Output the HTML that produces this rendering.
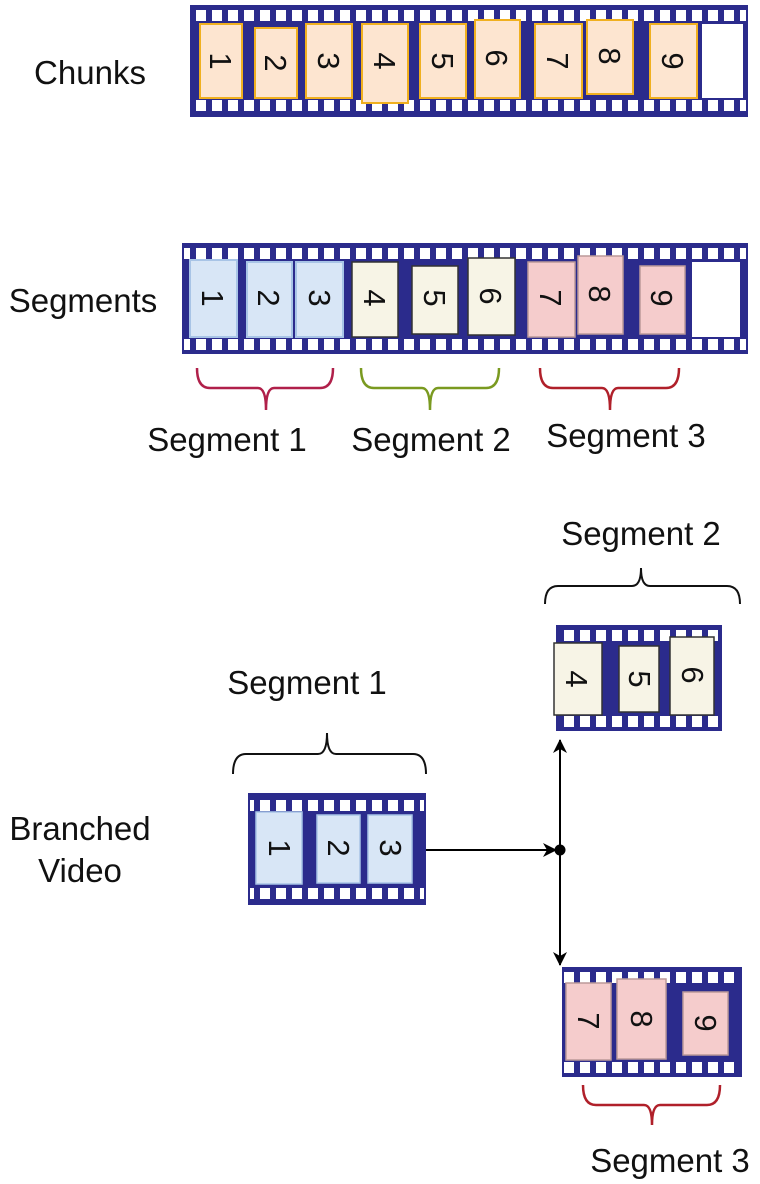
<!DOCTYPE html>
<html><head><meta charset="utf-8"><style>
html,body{margin:0;padding:0;background:#fff;}
svg{display:block}
text{font-family:"Liberation Sans",sans-serif;}
</style></head><body>
<svg width="760" height="1184" viewBox="0 0 760 1184" xmlns="http://www.w3.org/2000/svg">
<defs>
<pattern id="h" x="0" y="0" width="16" height="12" patternUnits="userSpaceOnUse">
<rect x="4" y="0" width="10" height="12" fill="#fff"/>
</pattern>
<marker id="ar" markerWidth="14" markerHeight="14" refX="13" refY="7" orient="auto" markerUnits="userSpaceOnUse"><path d="M0,0 L14,7 L0,14 L4,7z" fill="#000"/></marker>
</defs>
<g font-size="33" fill="#111">
<text x="90" y="84" text-anchor="middle">Chunks</text>
<text x="83" y="312" text-anchor="middle">Segments</text>
<text x="227" y="451" text-anchor="middle">Segment 1</text>
<text x="431" y="451" text-anchor="middle">Segment 2</text>
<text x="626" y="447" text-anchor="middle">Segment 3</text>
<text x="641" y="545" text-anchor="middle">Segment 2</text>
<text x="307" y="694" text-anchor="middle">Segment 1</text>
<text x="80" y="840" text-anchor="middle">Branched</text>
<text x="80" y="882" text-anchor="middle">Video</text>
<text x="670" y="1172" text-anchor="middle">Segment 3</text>
</g>

<!-- Strip 1 -->
<rect x="190" y="5" width="558" height="112" fill="#2b2b8c"/>
<rect x="192" y="10" width="554" height="11" fill="url(#h)"/>
<rect x="192" y="100" width="554" height="11" fill="url(#h)"/>
<g fill="#fde5d0" stroke="#f0b020" stroke-width="2">
<rect x="200" y="24" width="42" height="74"/><rect x="255" y="28" width="42" height="70"/>
<rect x="306" y="24" width="46" height="74"/><rect x="362" y="24" width="46" height="79"/>
<rect x="420" y="24" width="46" height="74"/><rect x="475" y="20" width="45" height="78"/>
<rect x="535" y="24" width="47" height="74"/><rect x="587" y="20" width="46" height="74"/>
<rect x="650" y="24" width="47" height="74"/>
</g>
<rect x="702" y="24" width="41" height="74" fill="#fff"/>
<g font-size="31" fill="#111" text-anchor="middle">
<text transform="translate(221,61) rotate(90)" y="11">1</text>
<text transform="translate(276,63) rotate(90)" y="11">2</text>
<text transform="translate(329,61) rotate(90)" y="11">3</text>
<text transform="translate(385,61) rotate(90)" y="11">4</text>
<text transform="translate(443,61) rotate(90)" y="11">5</text>
<text transform="translate(497,58) rotate(90)" y="11">6</text>
<text transform="translate(558,61) rotate(90)" y="11">7</text>
<text transform="translate(610,56) rotate(90)" y="11">8</text>
<text transform="translate(673,61) rotate(90)" y="11">9</text>
</g>

<!-- Strip 2 -->
<rect x="182" y="243" width="566" height="111" fill="#2b2b8c"/>
<rect x="184" y="248" width="562" height="11" fill="url(#h)"/>
<rect x="184" y="339" width="562" height="11" fill="url(#h)"/>
<g fill="#d8e6f6" stroke="#a8c4e6" stroke-width="2">
<rect x="190" y="260" width="47" height="77"/><rect x="247" y="262" width="45" height="75"/><rect x="296" y="262" width="47" height="75"/>
</g>
<g fill="#f7f4e6" stroke="#333" stroke-width="1.5">
<rect x="352" y="262" width="46" height="75"/><rect x="412" y="266" width="46" height="68"/><rect x="468" y="258" width="47" height="77"/>
</g>
<g fill="#f5cccc" stroke="#b99" stroke-width="1.5">
<rect x="528" y="262" width="47" height="75"/><rect x="578" y="256" width="45" height="78"/><rect x="640" y="266" width="45" height="68"/>
</g>
<rect x="692" y="262" width="48" height="75" fill="#fff"/>
<g font-size="31" fill="#111" text-anchor="middle">
<text transform="translate(213,298) rotate(90)" y="11">1</text>
<text transform="translate(269,298) rotate(90)" y="11">2</text>
<text transform="translate(320,298) rotate(90)" y="11">3</text>
<text transform="translate(375,298) rotate(90)" y="11">4</text>
<text transform="translate(435,298) rotate(90)" y="11">5</text>
<text transform="translate(491,296) rotate(90)" y="11">6</text>
<text transform="translate(551,298) rotate(90)" y="11">7</text>
<text transform="translate(600,294) rotate(90)" y="11">8</text>
<text transform="translate(662,298) rotate(90)" y="11">9</text>
</g>

<!-- Braces -->
<g fill="none" stroke-width="2.5">
<path d="M197,368 Q197,388 210,388 L258,388 Q266,388 266,410 Q266,388 274,388 L320,388 Q333,388 333,368" stroke="#b0204a"/>
<path d="M361,368 Q361,388 374,388 L422,388 Q430,388 430,410 Q430,388 438,388 L486,388 Q499,388 499,368" stroke="#7a9a20"/>
<path d="M540,368 Q540,388 553,388 L602,388 Q610,388 610,410 Q610,388 618,388 L666,388 Q679,388 679,368" stroke="#b0202a"/>
<path d="M583,1085 Q583,1105 596,1105 L644,1105 Q652,1105 652,1125 Q652,1105 660,1105 L707,1105 Q720,1105 720,1085" stroke="#b0202a"/>
</g>
<g fill="none" stroke="#111" stroke-width="2">
<path d="M545,604 Q545,586 558,586 L632,586 Q641,586 641,568 Q641,586 650,586 L727,586 Q740,586 740,604"/>
<path d="M233,774 Q233,754 246,754 L318,754 Q327,754 327,733 Q327,754 336,754 L413,754 Q426,754 426,774"/>
</g>

<!-- Branch strip Seg2 -->
<rect x="556" y="625" width="166" height="106" fill="#2b2b8c"/>
<rect x="558" y="630" width="162" height="11" fill="url(#h)"/>
<rect x="558" y="716" width="162" height="11" fill="url(#h)"/>
<g fill="#f7f4e6" stroke="#333" stroke-width="1.5">
<rect x="554" y="643" width="48" height="72"/><rect x="619" y="646" width="40" height="66"/><rect x="670" y="637" width="44" height="78"/>
</g>
<g font-size="31" fill="#111" text-anchor="middle">
<text transform="translate(577,679) rotate(90)" y="11">4</text>
<text transform="translate(640,679) rotate(90)" y="11">5</text>
<text transform="translate(693,675) rotate(90)" y="11">6</text>
</g>

<!-- Branch strip Seg1 -->
<rect x="248" y="793" width="178" height="112" fill="#2b2b8c"/>
<rect x="250" y="800" width="174" height="11" fill="url(#h)"/>
<rect x="250" y="888" width="174" height="11" fill="url(#h)"/>
<g fill="#d8e6f6" stroke="#a8c4e6" stroke-width="1.5">
<rect x="256" y="812" width="46" height="72"/><rect x="317" y="815" width="43" height="68"/><rect x="368" y="815" width="44" height="68"/>
</g>
<g font-size="31" fill="#111" text-anchor="middle">
<text transform="translate(280,848) rotate(90)" y="11">1</text>
<text transform="translate(339,848) rotate(90)" y="11">2</text>
<text transform="translate(391,848) rotate(90)" y="11">3</text>
</g>

<!-- Branch strip Seg3 -->
<rect x="562" y="967" width="180" height="110" fill="#2b2b8c"/>
<rect x="564" y="972" width="176" height="11" fill="url(#h)"/>
<rect x="564" y="1062" width="176" height="11" fill="url(#h)"/>
<g fill="#f5cccc" stroke="#b99" stroke-width="1.5">
<rect x="566" y="983" width="45" height="77"/><rect x="617" y="979" width="49" height="80"/><rect x="683" y="992" width="45" height="63"/>
</g>
<g font-size="31" fill="#111" text-anchor="middle">
<text transform="translate(589,1021) rotate(90)" y="11">7</text>
<text transform="translate(642,1019) rotate(90)" y="11">8</text>
<text transform="translate(706,1023) rotate(90)" y="11">9</text>
</g>

<!-- Connectors -->
<line x1="426" y1="850" x2="556" y2="850" stroke="#000" stroke-width="2" marker-end="url(#ar)"/>
<line x1="560" y1="850" x2="560" y2="740" stroke="#000" stroke-width="2" marker-end="url(#ar)"/>
<line x1="560" y1="850" x2="560" y2="965" stroke="#000" stroke-width="2" marker-end="url(#ar)"/>
<circle cx="560" cy="850" r="5.5" fill="#000"/>
</svg>
</body></html>
